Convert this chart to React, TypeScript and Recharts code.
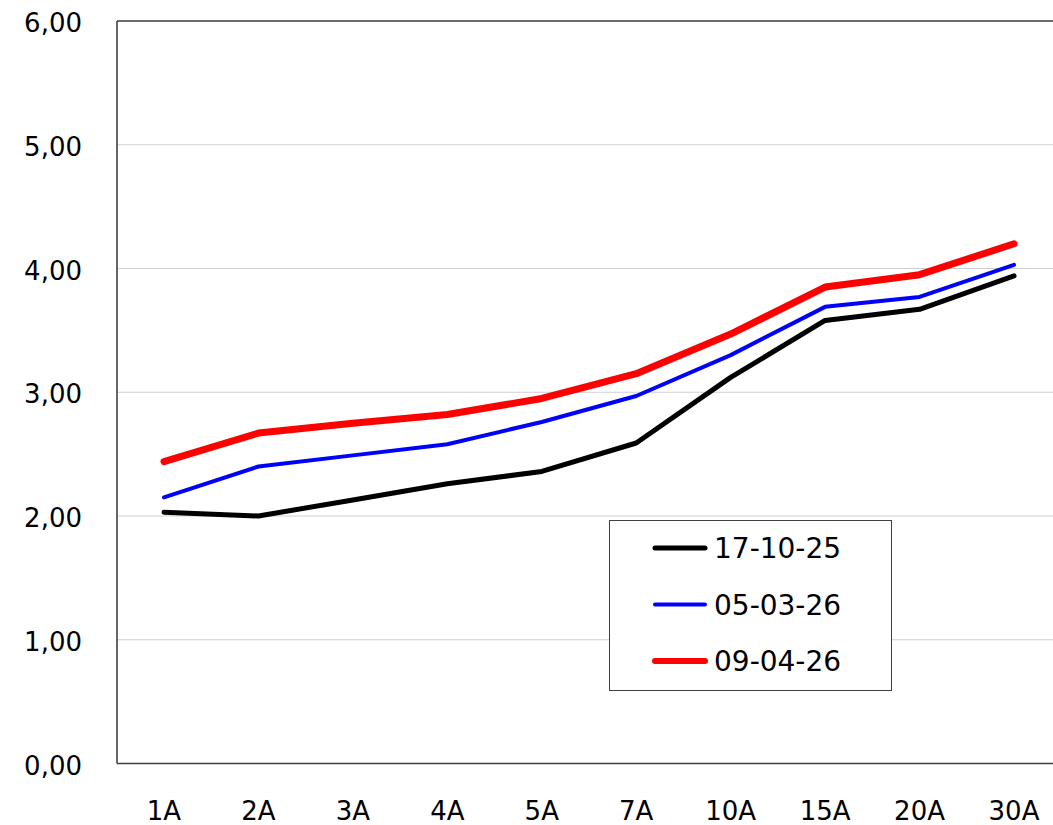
import React from 'react';
import { LineChart, Line, XAxis, YAxis, CartesianGrid } from 'recharts';

const categories = ['1A', '2A', '3A', '4A', '5A', '7A', '10A', '15A', '20A', '30A'];
const series1Values = [2.03, 2.0, 2.13, 2.26, 2.36, 2.59, 3.12, 3.58, 3.67, 3.94];
const series2Values = [2.15, 2.4, 2.49, 2.58, 2.76, 2.97, 3.3, 3.69, 3.77, 4.03];
const series3Values = [2.44, 2.67, 2.75, 2.82, 2.95, 3.15, 3.47, 3.85, 3.95, 4.2];
const seriesNames = ['17-10-25', '05-03-26', '09-04-26'];
const seriesColors = ['#000000', '#0000FF', '#FF0000'];
const seriesWidths = [5, 4, 7];
const legendWidths = [5, 4, 6];
const yTicks = [0, 1, 2, 3, 4, 5, 6];

const data = categories.map((c, i) => ({
  cat: c,
  s1: series1Values[i],
  s2: series2Values[i],
  s3: series3Values[i],
}));
const keys = ['s1', 's2', 's3'];

const FONT = "'DejaVu Sans', Verdana, sans-serif";
const BORDER = '#404040';

const LegendBox = () => (
  <svg width={284} height={172} style={{ display: 'block' }}>
    <rect x={0.5} y={0.5} width={282} height={170} fill="#ffffff" stroke={BORDER} strokeWidth={1} />
    {seriesNames.map((n, i) => {
      const cy = 28 + i * 56.5;
      return (
        <g key={n}>
          <line x1={46} x2={96} y1={cy} y2={cy} stroke={seriesColors[i]} strokeWidth={legendWidths[i]} strokeLinecap="round" />
          <text x={105} y={cy} dy="0.36em" fontFamily={FONT} fontSize={28} fill="#000">{n}</text>
        </g>
      );
    })}
  </svg>
);

export default function App() {
  return (
    <div style={{ position: 'absolute', left: 0, top: 0, width: 1053, height: 825, overflow: 'hidden', background: '#fff' }}>
      <LineChart width={1061} height={825} data={data} margin={{ top: 19, right: 0, bottom: 0, left: 0 }}>
        <CartesianGrid vertical={false} stroke="#d0d0d0" strokeWidth={1} />
        <XAxis
          dataKey="cat"
          height={61.5}
          padding={{ left: 47, right: 47 }}
          tickLine={false}
          axisLine={{ stroke: BORDER, strokeWidth: 1.6 }}
          tickSize={0}
          tickMargin={38}
          interval={0}
          tick={{ fontFamily: FONT, fontSize: 26, fill: '#000' }}
        />
        <XAxis
          xAxisId="top"
          dataKey="cat"
          orientation="top"
          height={2}
          padding={{ left: 47, right: 47 }}
          tick={false}
          tickLine={false}
          axisLine={{ stroke: BORDER, strokeWidth: 1.6 }}
        />
        <YAxis
          domain={[0, 6]}
          ticks={yTicks}
          width={117}
          tickLine={false}
          axisLine={{ stroke: BORDER, strokeWidth: 1.6 }}
          tickSize={0}
          tickMargin={35}
          tickFormatter={(v: number) => v.toFixed(2).replace('.', ',')}
          tick={{ fontFamily: FONT, fontSize: 26, fill: '#000', dy: 2 }}
        />
        {keys.map((k, i) => (
          <Line
            key={k}
            dataKey={k}
            name={seriesNames[i]}
            type="linear"
            stroke={seriesColors[i]}
            strokeWidth={seriesWidths[i]}
            strokeLinecap="round"
            strokeLinejoin="round"
            dot={false}
            activeDot={false}
            isAnimationActive={false}
          />
        ))}
      </LineChart>
      <div style={{ position: 'absolute', left: 609, top: 520 }}>
        <LegendBox />
      </div>
    </div>
  );
}
